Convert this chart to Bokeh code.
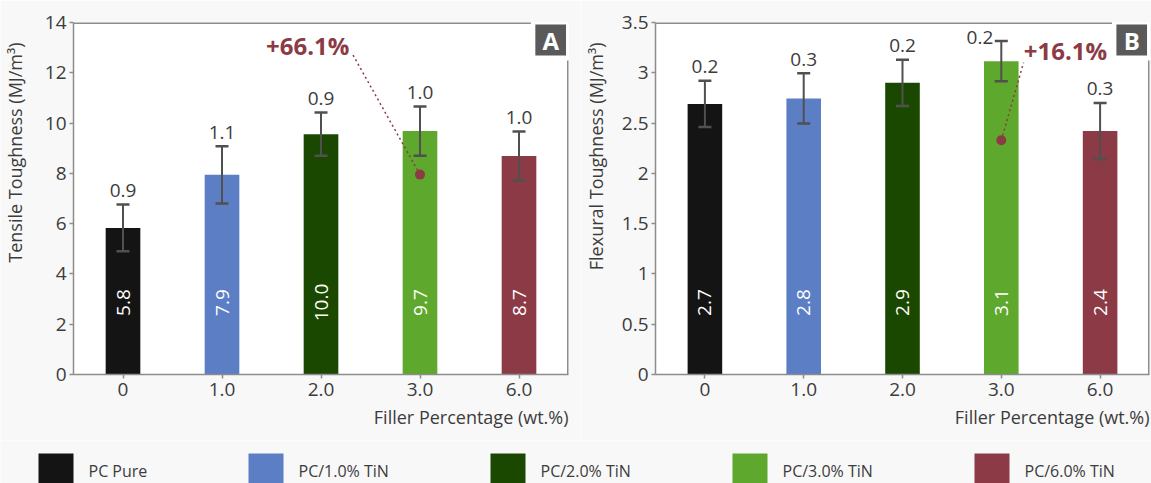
import math
from bokeh.plotting import figure
from bokeh.models import (ColumnDataSource, FactorRange, Range1d, Whisker, TeeHead, Title,
                          FixedTicker, NumeralTickFormatter)
from bokeh.layouts import column, row
from bokeh.core.properties import value
from bokeh.embed import file_html
from bokeh.resources import INLINE

# ---------------- data ----------------
categories = ["0", "1.0", "2.0", "3.0", "6.0"]
series_names = ["PC Pure", "PC/1.0% TiN", "PC/2.0% TiN", "PC/3.0% TiN", "PC/6.0% TiN"]
colors = ["#141414", "#5b7ec4", "#1b4800", "#5fa82e", "#8c3a46"]

tensile_mean = [5.83, 7.94, 9.56, 9.68, 8.69]
tensile_err = [0.93, 1.14, 0.86, 0.98, 0.97]
tensile_mean_labels = ["5.8", "7.9", "10.0", "9.7", "8.7"]
tensile_err_labels = ["0.9", "1.1", "0.9", "1.0", "1.0"]
tensile_gain_label = "+66.1%"
tensile_gain_marker = 7.95
tensile_ticks = [0, 2, 4, 6, 8, 10, 12, 14]

flexural_mean = [2.69, 2.745, 2.90, 3.115, 2.42]
flexural_err = [0.23, 0.25, 0.23, 0.20, 0.28]
flexural_mean_labels = ["2.7", "2.8", "2.9", "3.1", "2.4"]
flexural_err_labels = ["0.2", "0.3", "0.2", "0.2", "0.3"]
flexural_gain_label = "+16.1%"
flexural_gain_marker = 2.33
flexural_ticks = [0, 0.5, 1, 1.5, 2, 2.5, 3, 3.5]

x_title = "Filler Percentage (wt.%)"
tensile_title = "Tensile Toughness (MJ/m³)"
flexural_title = "Flexural Toughness (MJ/m³)"

# ---------------- style ----------------
FONT = "Open Sans"
TXT = "#3c3c3c"
AXC = "#8c8c8c"
RED = "#8c3a46"
BG = "#f8f8f8"
FRAME_H = 352
PANEL_H = 440


def make_panel(width, left, right, ylabel, means, errs, mean_labels, err_labels, ticks,
               gain_label, gain_marker, letter, gain_text_f, gain_line_f, title_gap, fmt=None):
    ymax = ticks[-1]
    ppu = FRAME_H / ymax
    nx = len(categories)
    p = figure(width=width, height=PANEL_H, x_range=FactorRange(*categories),
               y_range=Range1d(0, ymax), output_backend="svg", toolbar_location=None,
               min_border_left=left, min_border_right=right, min_border_top=22,
               min_border_bottom=PANEL_H - 22 - FRAME_H)
    p.background_fill_color = "white"
    p.border_fill_color = BG
    p.outline_line_color = None
    p.grid.visible = False

    for ax in (p.xaxis[0], p.yaxis[0]):
        ax.axis_line_color = AXC
        ax.axis_line_width = 1.5
        ax.major_tick_line_color = AXC
        ax.major_tick_line_width = 1.5
        ax.major_tick_out = 4
        ax.major_tick_in = 0
        ax.minor_tick_line_color = None
        ax.major_label_text_font = FONT
        ax.major_label_text_font_size = "19px"
        ax.major_label_text_color = TXT
    p.xaxis.major_label_standoff = 4
    p.yaxis.major_label_standoff = 3
    p.yaxis.ticker = FixedTicker(ticks=ticks)
    # an invisible spacer label pushes the y title outwards
    p.yaxis.axis_label = " "
    p.yaxis.axis_label_text_font_size = "1px"
    p.yaxis.axis_label_standoff = title_gap
    if fmt is not None:
        p.yaxis.formatter = fmt

    upper = [m + e for m, e in zip(means, errs)]
    lower = [m - e for m, e in zip(means, errs)]
    src = ColumnDataSource(dict(cat=categories, mean=means, upper=upper, lower=lower,
                                color=colors, mlab=mean_labels,
                                mly=[0.2045 * ymax] * nx))
    p.vbar(x="cat", top="mean", width=0.35, source=src, fill_color="color", line_color=None)

    # frame lines (top / right), broken by the panel badge
    p.segment(x0=[0], x1=[0.924 * nx], y0=[ymax], y1=[ymax], line_color=AXC, line_width=3)
    p.segment(x0=[nx], x1=[nx], y0=[0], y1=[0.892 * ymax], line_color=AXC, line_width=3)

    ecol = "#505050"
    w = Whisker(base="cat", upper="upper", lower="lower", source=src, line_color=ecol, line_width=2,
                upper_head=TeeHead(size=13, line_color=ecol, line_width=2.5),
                lower_head=TeeHead(size=13, line_color=ecol, line_width=2.5),
                level="annotation")
    p.add_layout(w)

    # rotated value labels inside bars
    p.text(x="cat", y="mly", text="mlab", source=src, angle=math.pi / 2, text_color="white",
           text_font=value(FONT), text_font_size="19px", text_align="center",
           text_baseline="middle")

    # error labels above whiskers
    normal = dict(cat=[], y=[], t=[])
    crowd = dict(cat=[], y=[], t=[])
    for c, u, t in zip(categories, upper, err_labels):
        if u + 28 / ppu > ymax:
            crowd["cat"].append(c); crowd["y"].append(u + 4 / ppu); crowd["t"].append(t)
        else:
            normal["cat"].append(c); normal["y"].append(u + 14 / ppu); normal["t"].append(t)
    p.text(x="cat", y="y", text="t", source=ColumnDataSource(normal), text_color=TXT,
           text_font=value(FONT), text_font_size="19px", text_align="center",
           text_baseline="alphabetic")
    if crowd["cat"]:
        p.text(x="cat", y="y", text="t", source=ColumnDataSource(crowd), text_color=TXT,
               text_font=value(FONT), text_font_size="19px", text_align="right",
               text_baseline="middle", x_offset=-8)

    # gain annotation
    gi = max(range(nx), key=lambda i: means[i])
    p.segment(x0=[categories[gi]], y0=[gain_marker], x1=[gain_line_f[0] * nx],
              y1=[gain_line_f[1] * ymax], line_color=RED, line_width=1.5, line_dash="2 3")
    p.scatter(x=[categories[gi]], y=[gain_marker], size=10, fill_color=RED, line_color=None)
    p.text(x=[gain_text_f[0] * nx], y=[gain_text_f[1] * ymax], text=[gain_label],
           text_color=RED, text_font=value(FONT), text_font_size="24px",
           text_font_style="bold", text_align="center", text_baseline="middle")

    # panel badge
    p.quad(left=[0.933 * nx], right=[0.995 * nx], bottom=[0.906 * ymax], top=[0.994 * ymax],
           fill_color="#5a5a5a", line_color=None)
    p.text(x=[0.964 * nx], y=[0.950 * ymax], text=[letter], text_color="white",
           text_font=value(FONT), text_font_size="24px", text_font_style="bold",
           text_align="center", text_baseline="middle")

    # axis titles
    p.add_layout(Title(text=ylabel, align="right", offset=20, text_font=FONT,
                       text_font_size="18px", text_font_style="normal", text_color=TXT,
                       standoff=0), "left")
    p.add_layout(Title(text=x_title, align="right", text_font=FONT, text_font_size="18px",
                       text_font_style="normal", text_color=TXT, standoff=8), "below")
    return p


pA = make_panel(580, 71, 12, tensile_title, tensile_mean, tensile_err, tensile_mean_labels,
                tensile_err_labels, tensile_ticks, tensile_gain_label, tensile_gain_marker, "A",
                (0.473, 0.935), (0.563, 0.912), 11)
pB = make_panel(571, 75, 2, flexural_title, flexural_mean, flexural_err, flexural_mean_labels,
                flexural_err_labels, flexural_ticks, flexural_gain_label, flexural_gain_marker, "B",
                (0.83, 0.92), (0.745, 0.886), 7, fmt=NumeralTickFormatter(format="0.[0]"))

# ---------------- legend strip ----------------
LW, LH = 1151, 43
pL = figure(width=LW, height=LH, x_range=Range1d(0, LW), y_range=Range1d(0, LH),
            output_backend="svg", toolbar_location=None, min_border=0)
pL.axis.visible = False
pL.grid.visible = False
pL.outline_line_color = None
pL.background_fill_color = BG
pL.border_fill_color = BG
first, start, step = 38, 248, 242
lefts = [first] + [start + (i - 1) * step for i in range(1, len(series_names))]
pL.quad(left=lefts, right=[l + 35 for l in lefts], bottom=[0] * len(lefts), top=[30] * len(lefts),
        fill_color=colors, line_color=None)
pL.text(x=[l + 50 for l in lefts], y=[13] * len(lefts), text=series_names, text_color=TXT,
        text_font=value(FONT), text_font_size="16px", text_align="left", text_baseline="middle")

layout = column(row(pA, pB, spacing=0), pL, spacing=0)
open("out.html", "w").write(file_html(layout, INLINE))
